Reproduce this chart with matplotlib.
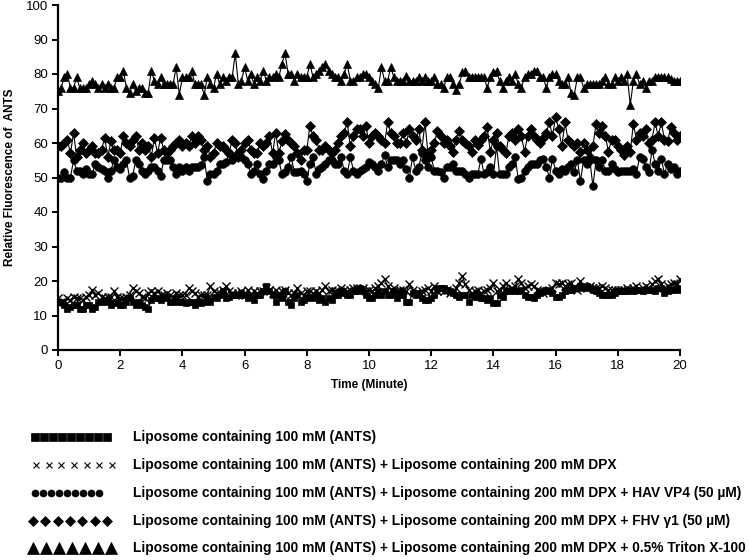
import matplotlib
matplotlib.use('Agg')
import matplotlib.pyplot as plt
import numpy as np

plt.rcParams['font.family'] = ['Liberation Sans', 'DejaVu Sans']

# time axis, one reading every 0.1 minute
time_min = np.round(np.arange(201) * 0.1, 1)

ants_only = [14, 14, 13, 12, 12.5, 13, 13, 12, 12, 13, 13,
             12, 12.5, 14, 14, 14.5, 14, 13, 13.5, 14, 13,
             13, 14, 15, 14, 13, 14, 13, 12.5, 12, 14.5,
             15, 15, 14.5, 15.5, 15, 14, 14, 15, 14, 14,
             13.5, 14, 14, 13, 14, 13.5, 14, 15, 14, 15.5,
             15, 16, 17, 15, 15.5, 16, 16, 16, 16.5, 16,
             15, 15.5, 14.5, 16, 16, 17, 18.5, 17, 16, 14,
             16, 15, 17, 14, 13, 15, 16, 14, 14.5, 15,
             15.5, 15, 16, 14.5, 15, 14, 15, 14.5, 16, 16,
             17, 16.5, 16, 16, 17, 17, 18, 17, 16, 15,
             15, 16, 17, 16, 17, 16, 16, 17, 15, 16,
             16, 14, 14, 16.5, 16, 16.5, 15, 14.5, 14.5, 15,
             16, 18, 18, 18, 17.5, 17, 16.5, 16, 15.5, 16,
             16, 14, 16, 15.5, 16, 15, 15, 14.5, 15, 13.5,
             13.5, 16, 15.5, 17, 17, 17.5, 17, 17, 17.5, 16,
             15.5, 15.5, 15, 16, 16.5, 17, 17.5, 17, 16.5, 15.5,
             15.5, 16, 17, 17.5, 17.5, 18, 18, 18.5, 18, 18.5,
             18, 17.5, 17, 16.5, 16, 16, 16, 16, 16.5, 17,
             17, 17, 17, 17.5, 17, 17.5, 17.5, 17, 17.5, 17.5,
             17.5, 17, 18, 18, 16.5, 17, 17.5, 17.5, 18, 17.5]

ants_dpx = [15, 14, 14, 15, 14.5, 15.5, 15, 15, 14.5, 15.5, 16,
            17.5, 16, 16.5, 15.5, 15, 15.5, 15.5, 17, 15.5, 15,
            15, 15.5, 16, 18, 17, 16.5, 15.5, 15, 16.5, 17,
            16.5, 17, 16, 16, 16.5, 16, 15.5, 16.5, 16, 16,
            16, 18, 17, 16.5, 15.5, 16, 16, 16, 18.5, 17,
            16.5, 16.5, 17.5, 18.5, 17, 16.5, 16, 16.5, 17, 16,
            17.5, 16, 17, 16.5, 17, 17, 18, 17.5, 16.5, 17.5,
            16.5, 17, 17.5, 16.5, 16, 16.5, 18, 16.5, 16, 17,
            17, 16.5, 17, 16.5, 17.5, 18.5, 17, 17.5, 17, 17,
            18, 17.5, 17, 17.5, 18, 18, 17.5, 18, 17, 17.5,
            17, 18, 18.5, 19.5, 20.5, 18.5, 17.5, 18, 17, 17.5,
            17.5, 17, 19, 17.5, 16.5, 16.5, 17, 17.5, 18, 17,
            18.5, 17, 17.5, 17, 17.5, 16.5, 17, 18, 19.5, 21.5,
            19, 17.5, 16.5, 17, 17.5, 16.5, 17, 17.5, 18, 19.5,
            17, 17.5, 18.5, 19.5, 17.5, 18, 18.5, 20.5, 19.5, 18,
            18.5, 19, 18.5, 17.5, 17, 16.5, 17, 17.5, 18, 19.5,
            19, 19.5, 18.5, 19, 19.5, 18, 17.5, 20, 18.5, 18,
            18.5, 18, 18, 18, 18.5, 18, 17.5, 17.5, 17.5, 17.5,
            17.5, 17.5, 18, 17.5, 18, 18.5, 17.5, 18, 18.5, 18,
            19, 20, 20.5, 19, 18, 18.5, 19, 19.5, 19, 20.5]

hav_vp4 = [50, 50, 51.5, 50, 50, 55, 52, 52, 51, 52.5,
           51, 51, 54, 53, 52.5, 52, 50, 52, 55, 53,
           52.5, 54, 55, 50, 50.5, 55, 54, 52, 51, 52,
           53, 53, 52, 50.5, 55, 55, 55, 53, 51, 53,
           52, 53, 52, 53, 53, 53, 53.5, 56, 49, 51,
           51, 52, 54, 54, 54.5, 57, 55, 56, 57, 56,
           55, 54, 51, 52, 54, 51, 49.5, 52, 54, 54,
           56, 55, 51, 51.5, 53, 56, 51.5, 51.5, 52, 51,
           49, 54, 56, 51, 52.5, 53, 54, 55, 55, 54,
           54, 56, 52, 51, 56, 52, 51, 52, 52.5, 53,
           54.5, 54, 53, 52, 54, 56.5, 53, 55, 55, 55,
           54, 55, 52.5, 50, 56, 52, 53, 57, 55, 53,
           56, 52, 52, 51.5, 50, 53, 53, 54, 52, 52,
           52, 51, 50, 51, 51, 51, 55.5, 51, 51.5, 53,
           51, 59, 51, 51, 51, 53, 54, 56, 49.5, 50,
           52, 53, 54, 54, 54, 55, 55.5, 53, 50, 55.5,
           52, 51, 52.5, 52, 53, 54, 51.5, 55, 49, 55,
           54, 55, 47.5, 55, 53, 55, 52, 52, 54, 52.5,
           51.5, 52, 52, 52, 52, 52.5, 51, 56, 55.5, 53,
           51.5, 58, 54, 52, 55.5, 51, 54, 52.5, 53, 51,
           52]

fhv_g1 = [59, 59, 60, 61, 57, 63, 56, 58, 60, 57,
          58, 59, 57, 57, 58, 61.5, 56, 60.5, 58, 58,
          57, 62, 60, 59, 61, 62, 58, 60, 58, 59,
          56, 61.5, 57, 61.5, 58, 57, 58, 59, 60, 61,
          59, 60, 59, 62, 60, 62, 61, 58, 59, 56,
          57, 60, 59, 59, 58, 57, 61, 60, 56, 58,
          60, 61, 58, 57, 57, 60, 59, 60, 62, 57,
          63, 57, 60.5, 62.5, 61, 60, 59, 57, 55, 58,
          58, 65, 62, 61, 58, 58, 59, 58, 57, 58,
          60, 62, 63, 66, 59, 62, 64, 64, 62, 65,
          60, 62, 63, 62, 61, 60, 66, 63, 62, 60,
          60, 63, 60, 64, 62, 61, 64, 58, 66, 56.5,
          58, 60, 63.5, 62, 60, 61, 59, 57.5, 61, 63.5,
          61, 60, 59, 57.5, 61, 59.5, 61, 62, 64.5, 57.5,
          61, 63, 59, 58, 57, 62, 63, 61, 64, 62,
          57.5, 62, 64, 62, 61, 60, 61.5, 63, 66, 62,
          67.5, 64, 59, 66, 61, 60, 59, 60, 57.5, 60,
          58, 56, 59, 65.5, 63, 65, 62, 57.5, 61, 61,
          59, 58, 56.5, 59, 57.5, 65.5, 61, 63, 62, 64,
          60, 61, 66, 62, 66, 61, 60.5, 64.5, 63, 61,
          62]

triton = [75, 76, 79, 80, 76, 76, 79, 76, 76, 76,
          77, 78, 77, 76, 77, 76, 77, 76, 76, 79,
          79, 81, 76, 74.5, 77, 75, 76, 76, 74.5, 74.5,
          81, 78, 77, 79, 77, 77, 77, 77, 82, 74,
          79, 79, 79, 81, 77, 77, 77, 74, 79, 77,
          76, 80, 77, 79, 78, 79, 79, 86, 77, 78,
          82, 78, 80, 77, 79, 78, 81, 78, 79, 79,
          80, 79, 83, 86, 80, 80, 78, 80, 79, 79,
          79, 83, 79, 80, 81, 82, 83, 81, 80, 79,
          79, 78, 80, 83, 78, 78, 79, 79, 80, 80,
          79, 78, 77, 76, 82, 78, 78, 82, 79, 78,
          78, 78, 79.5, 78, 78, 78, 79, 78, 79, 78,
          78, 79, 77, 77, 76, 79, 79, 77, 75.5, 77,
          80.5, 81, 79, 79, 79, 79, 79, 79, 76, 79,
          80.5, 81, 78, 76, 78, 79, 78, 80, 77, 76,
          79, 80, 80, 81, 81, 79, 79, 76, 79, 80,
          80, 78, 77, 77, 79, 74.5, 74, 79, 79, 76,
          77, 77, 77, 77, 77, 78, 79, 77, 77, 79,
          78, 79, 78, 80, 71, 78, 80, 77, 78, 76,
          78, 78, 79, 79, 79, 79, 79, 78.5, 78, 78,
          78]

labels = ["Liposome containing 100 mM (ANTS)",
          "Liposome containing 100 mM (ANTS) + Liposome containing 200 mM DPX",
          "Liposome containing 100 mM (ANTS) + Liposome containing 200 mM DPX + HAV VP4 (50 \u00b5M)",
          "Liposome containing 100 mM (ANTS) + Liposome containing 200 mM DPX + FHV \u03b31 (50 \u00b5M)",
          "Liposome containing 100 mM (ANTS) + Liposome containing 200 mM DPX + 0.5% Triton X-100"]

series = [ants_only, ants_dpx, hav_vp4, fhv_g1, triton]
markers = ['s', 'x', 'o', 'D', '^']
msizes = [5, 6, 5.5, 4.8, 6]

fig = plt.figure(figsize=(7.5, 5.6), dpi=100)
ax = fig.add_axes([58/750, 1 - 350/560, 622/750, 345/560])

for vals, m, ms in zip(series, markers, msizes):
    ax.plot(time_min, vals, color='black', lw=0.8, marker=m, ms=ms,
            mec='black', mfc='black', mew=1.0 if m == 'x' else 0.5)

ax.set_xlim(0, 20)
ax.set_ylim(0, 100)
ax.set_xticks(range(0, 21, 2))
ax.set_yticks(range(0, 101, 10))
for s in ['top', 'right']:
    ax.spines[s].set_visible(False)
for s in ['left', 'bottom']:
    ax.spines[s].set_linewidth(1.6)
ax.tick_params(direction='out', length=4, width=1.4, labelsize=9.5, pad=3)
ax.set_xlabel("Time (Minute)", fontsize=8.5, fontweight='bold', labelpad=5)
ax.set_ylabel("Relative Fluorescence of  ANTS", fontsize=8.5, fontweight='bold')
ax.yaxis.set_label_coords(-0.068, 0.5)

# legend block drawn under the plot in pixel coordinates
lax = fig.add_axes([0, 0, 1, 1])
lax.set_xlim(0, 750)
lax.set_ylim(560, 0)
lax.axis('off')
row_y = [437, 465, 493, 521, 548]
leg_marks = [('s', 9, 35, 107, 6, 0.5),
             ('x', 7, 36, 112, 5, 0.8),
             ('o', 9, 35, 99, 5, 0.5),
             ('D', 7, 33, 107, 5, 0.5),
             ('^', 7, 33, 111, 8.5, 0.5)]
for y, lab, (m, n, x0, x1, ms, mew) in zip(row_y, labels, leg_marks):
    lax.plot(np.linspace(x0, x1, n), [y] * n, ls='none', marker=m, ms=ms,
             color='black', mew=mew)
    lax.text(133, y, lab, fontsize=9.9, fontweight='bold', va='center', ha='left')

fig.savefig('out.png', dpi=100)
